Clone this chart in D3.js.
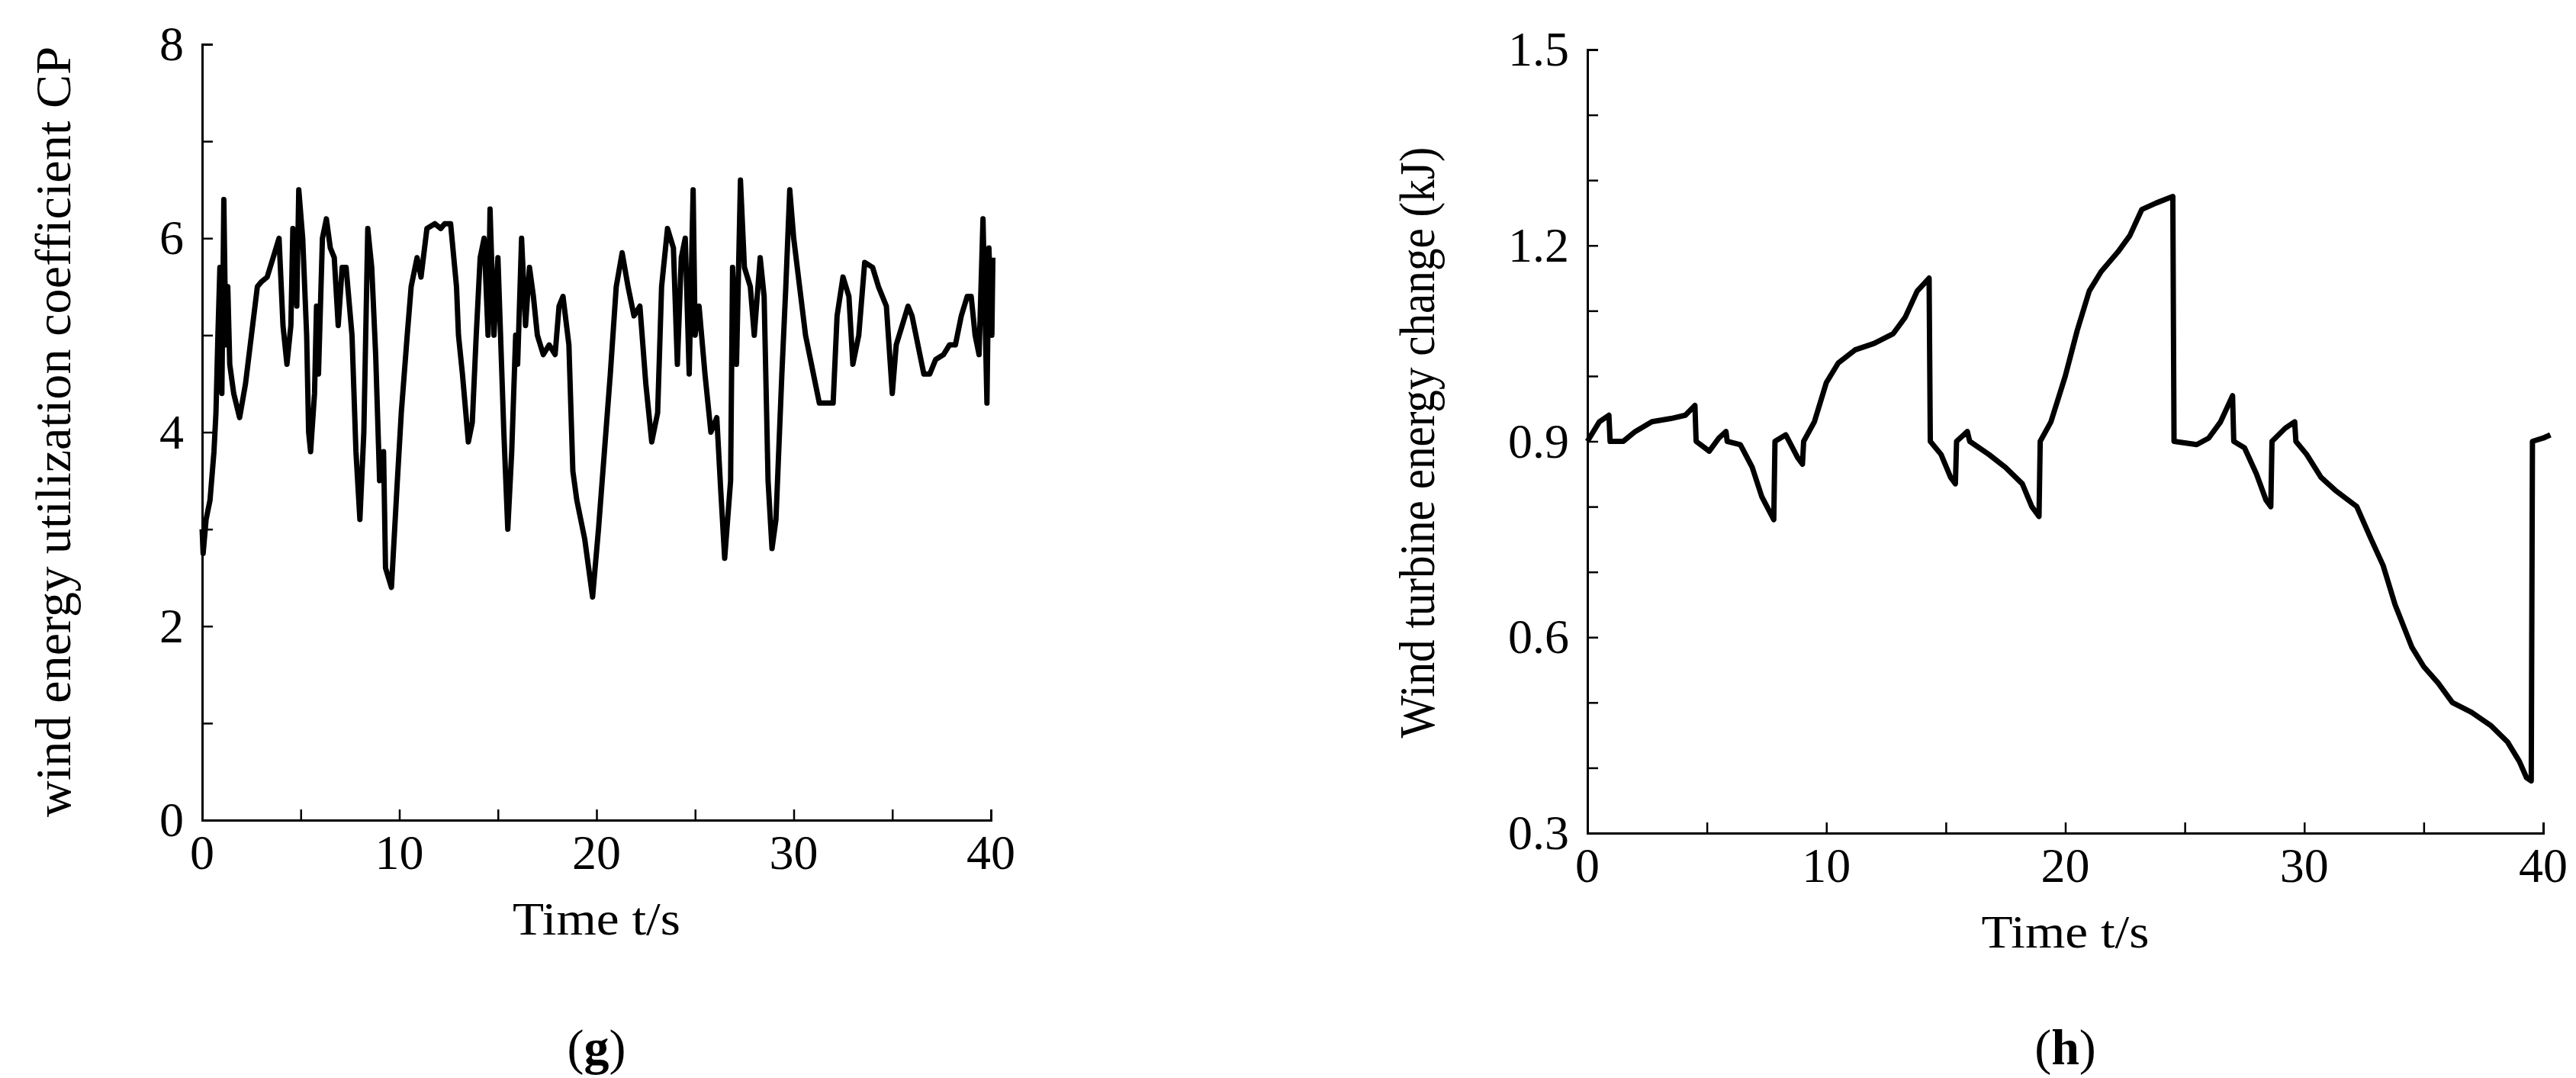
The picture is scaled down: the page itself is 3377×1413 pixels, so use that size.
<!DOCTYPE html>
<html><head><meta charset="utf-8">
<script src="https://cdn.jsdelivr.net/npm/d3@7"></script>
<style>body{margin:0;background:#fff}svg{display:block}text{font-family:"Liberation Serif","DejaVu Serif",serif}</style>
</head><body>
<svg id="chart" width="3377" height="1413"></svg>
<script>
// (g) wind energy utilization coefficient CP
const cpTime = [0,0.05,0.2,0.4,0.6,0.7,0.8,0.9,1.0,1.1,1.2,1.3,1.4,1.6,1.9,2.2,2.5,2.8,3.0,3.3,3.6,3.9,4.1,4.3,4.5,4.6,4.8,4.9,5.1,5.3,5.4,5.5,5.7,5.8,5.9,6.1,6.3,6.5,6.7,6.9,7.1,7.3,7.6,7.8,8.0,8.2,8.4,8.6,8.8,9.0,9.2,9.3,9.6,9.9,10.1,10.4,10.6,10.9,11.1,11.4,11.8,12.1,12.3,12.6,12.9,13.0,13.2,13.5,13.7,13.9,14.1,14.3,14.5,14.6,14.8,15.0,15.3,15.5,15.7,15.9,16.0,16.2,16.4,16.6,16.8,17.0,17.3,17.6,17.9,18.1,18.3,18.6,18.8,19.0,19.2,19.4,19.6,19.8,20.1,20.4,20.7,21.0,21.3,21.6,21.9,22.2,22.5,22.8,23.1,23.3,23.6,23.9,24.1,24.3,24.5,24.7,24.9,25.0,25.2,25.5,25.8,26.1,26.3,26.5,26.8,26.9,27.1,27.3,27.5,27.8,28.0,28.3,28.5,28.7,28.9,29.1,29.4,29.6,29.8,30.0,30.3,30.6,30.9,31.1,31.3,31.6,32.0,32.2,32.5,32.8,33.0,33.3,33.6,34.0,34.3,34.7,35.0,35.2,35.5,35.8,36.0,36.3,36.6,36.9,37.2,37.6,37.9,38.2,38.5,38.8,39.0,39.2,39.4,39.6,39.8,39.9,40.05,40.1];
const cpValue = [3.0,2.75,3.1,3.3,3.8,4.2,5.0,5.7,4.4,6.4,4.9,5.5,4.7,4.4,4.15,4.5,5.0,5.5,5.55,5.6,5.8,6.0,5.1,4.7,5.1,6.1,5.3,6.5,6.0,5.0,4.0,3.8,4.4,5.3,4.6,6.0,6.2,5.9,5.8,5.1,5.7,5.7,5.0,3.8,3.1,4.0,6.1,5.7,4.8,3.5,3.8,2.6,2.4,3.5,4.2,5.0,5.5,5.8,5.6,6.1,6.15,6.1,6.15,6.15,5.5,5.0,4.6,3.9,4.1,5.0,5.8,6.0,5.0,6.3,5.0,5.8,4.0,3.0,3.8,5.0,4.7,6.0,5.1,5.7,5.4,5.0,4.8,4.9,4.8,5.3,5.4,4.9,3.6,3.3,3.1,2.9,2.6,2.3,3.0,3.8,4.6,5.5,5.85,5.5,5.2,5.3,4.5,3.9,4.2,5.5,6.1,5.9,4.7,5.8,6.0,4.6,6.5,5.0,5.3,4.6,4.0,4.15,3.4,2.7,3.5,5.7,4.7,6.6,5.7,5.5,5.0,5.8,5.4,3.5,2.8,3.1,4.6,5.5,6.5,6.0,5.5,5.0,4.7,4.5,4.3,4.3,4.3,5.2,5.6,5.4,4.7,5.0,5.75,5.7,5.5,5.3,4.4,4.9,5.1,5.3,5.2,4.9,4.6,4.6,4.75,4.8,4.9,4.9,5.2,5.4,5.4,5.0,4.8,6.2,4.3,5.9,5.0,5.8];
const cpTicks = [0,2,4,6,8];

// (h) wind turbine energy change (kJ)
const enTime = [0,0.5,0.9,0.95,1.5,2.0,2.7,3.5,4.1,4.5,4.55,5.1,5.5,5.8,5.85,6.4,6.9,7.3,7.8,7.85,8.3,8.8,9.0,9.05,9.5,10.0,10.5,11.2,12.0,12.8,13.3,13.8,14.3,14.35,14.8,15.2,15.4,15.45,15.9,16.0,16.8,17.5,18.2,18.6,18.9,18.95,19.4,20.0,20.5,21.0,21.5,22.2,22.7,23.2,23.8,24.5,24.55,25.5,26.0,26.5,27.0,27.05,27.5,28.0,28.4,28.6,28.65,29.2,29.6,29.65,30.1,30.7,31.3,32.2,32.8,33.3,33.8,34.5,35.0,35.6,36.2,37.0,37.8,38.5,39.0,39.3,39.5,39.55,40.0,40.3];
const enValue = [0.90,0.93,0.94,0.90,0.90,0.915,0.93,0.935,0.94,0.955,0.90,0.885,0.905,0.915,0.90,0.895,0.86,0.815,0.78,0.90,0.91,0.875,0.865,0.90,0.93,0.99,1.02,1.04,1.05,1.065,1.09,1.13,1.15,0.90,0.88,0.845,0.835,0.90,0.915,0.90,0.88,0.86,0.835,0.80,0.785,0.90,0.93,1.00,1.07,1.13,1.16,1.19,1.215,1.255,1.265,1.275,0.90,0.895,0.905,0.93,0.97,0.90,0.89,0.85,0.81,0.80,0.90,0.92,0.93,0.90,0.88,0.845,0.825,0.80,0.75,0.71,0.65,0.585,0.555,0.53,0.50,0.485,0.465,0.44,0.41,0.385,0.38,0.90,0.905,0.91];
const enTicks = [0.3,0.6,0.9,1.2,1.5];
const timeTicks = [0,10,20,30,40];

const svg = d3.select('#chart');

function panel(o) {
    const x = d3.scaleLinear().domain([0, 40]).range([o.x0, o.x1]);
    const y = d3.scaleLinear().domain(o.ydom).range([o.y0, o.y1]);
    const g = svg.append('g');

    // minor ticks
    const xa = g.append('g').attr('transform', `translate(0,${o.y0})`)
        .call(d3.axisBottom(x).tickValues(d3.range(0, 41, 5)).tickSize(-14).tickFormat(''));
    const ya = g.append('g').attr('transform', `translate(${o.x0},0)`)
        .call(d3.axisLeft(y).tickValues(o.minor).tickSize(-14).tickFormat(''));
    [xa, ya].forEach(a => {
        a.select('.domain').attr('stroke', '#000').attr('stroke-width', 3);
        a.selectAll('.tick line').attr('stroke-width', 2.5);
    });

    g.selectAll('.xl').data(timeTicks).enter().append('text')
        .attr('x', d => x(d)).attr('y', o.y0 + 64)
        .attr('text-anchor', 'middle').style('font-size', '64px').text(d => d);
    g.selectAll('.yl').data(o.ticks).enter().append('text')
        .attr('x', o.x0 - 24).attr('y', d => y(d) + 21)
        .attr('text-anchor', 'end').style('font-size', '64px').text(o.fmt);

    g.append('path').datum(o.t.map((t, i) => [t, o.v[i]]))
        .attr('fill', 'none').attr('stroke', '#000').attr('stroke-width', 7)
        .attr('stroke-linejoin', 'round')
        .attr('d', d3.line().x(d => x(d[0])).y(d => y(d[1])));

    g.append('text').attr('x', (o.x0 + o.x1) / 2).attr('y', o.y0 + 150)
        .attr('text-anchor', 'middle').style('font-size', '62px')
        .attr('textLength', 220).attr('lengthAdjust', 'spacingAndGlyphs').text('Time t/s');
    g.append('text').attr('transform', `translate(${o.tx},${o.ty}) rotate(-90)`)
        .attr('text-anchor', 'middle').style('font-size', '66px')
        .attr('textLength', o.tlen).attr('lengthAdjust', 'spacingAndGlyphs').text(o.title);
    g.append('text').attr('x', (o.x0 + o.x1) / 2).attr('y', 1395)
        .attr('text-anchor', 'middle').style('font-size', '66px')
        .html(`(<tspan font-weight="bold">${o.tag}</tspan>)`);
}

panel({x0: 265, x1: 1299, y0: 1075, y1: 58, ydom: [0, 8], t: cpTime, v: cpValue,
    ticks: cpTicks, minor: d3.range(0, 9, 1), fmt: d => d, tx: 92, ty: 566, tlen: 1010,
    title: 'wind energy utilization coefficient CP', tag: 'g'});
panel({x0: 2081, x1: 3334, y0: 1092, y1: 65, ydom: [0.3, 1.5], t: enTime, v: enValue,
    ticks: enTicks, minor: d3.range(3, 16, 1).map(d => d / 10), fmt: d3.format('.1f'), tx: 1880, ty: 580, tlen: 775,
    title: 'Wind turbine energy change (kJ)', tag: 'h'});
</script>
</body></html>
